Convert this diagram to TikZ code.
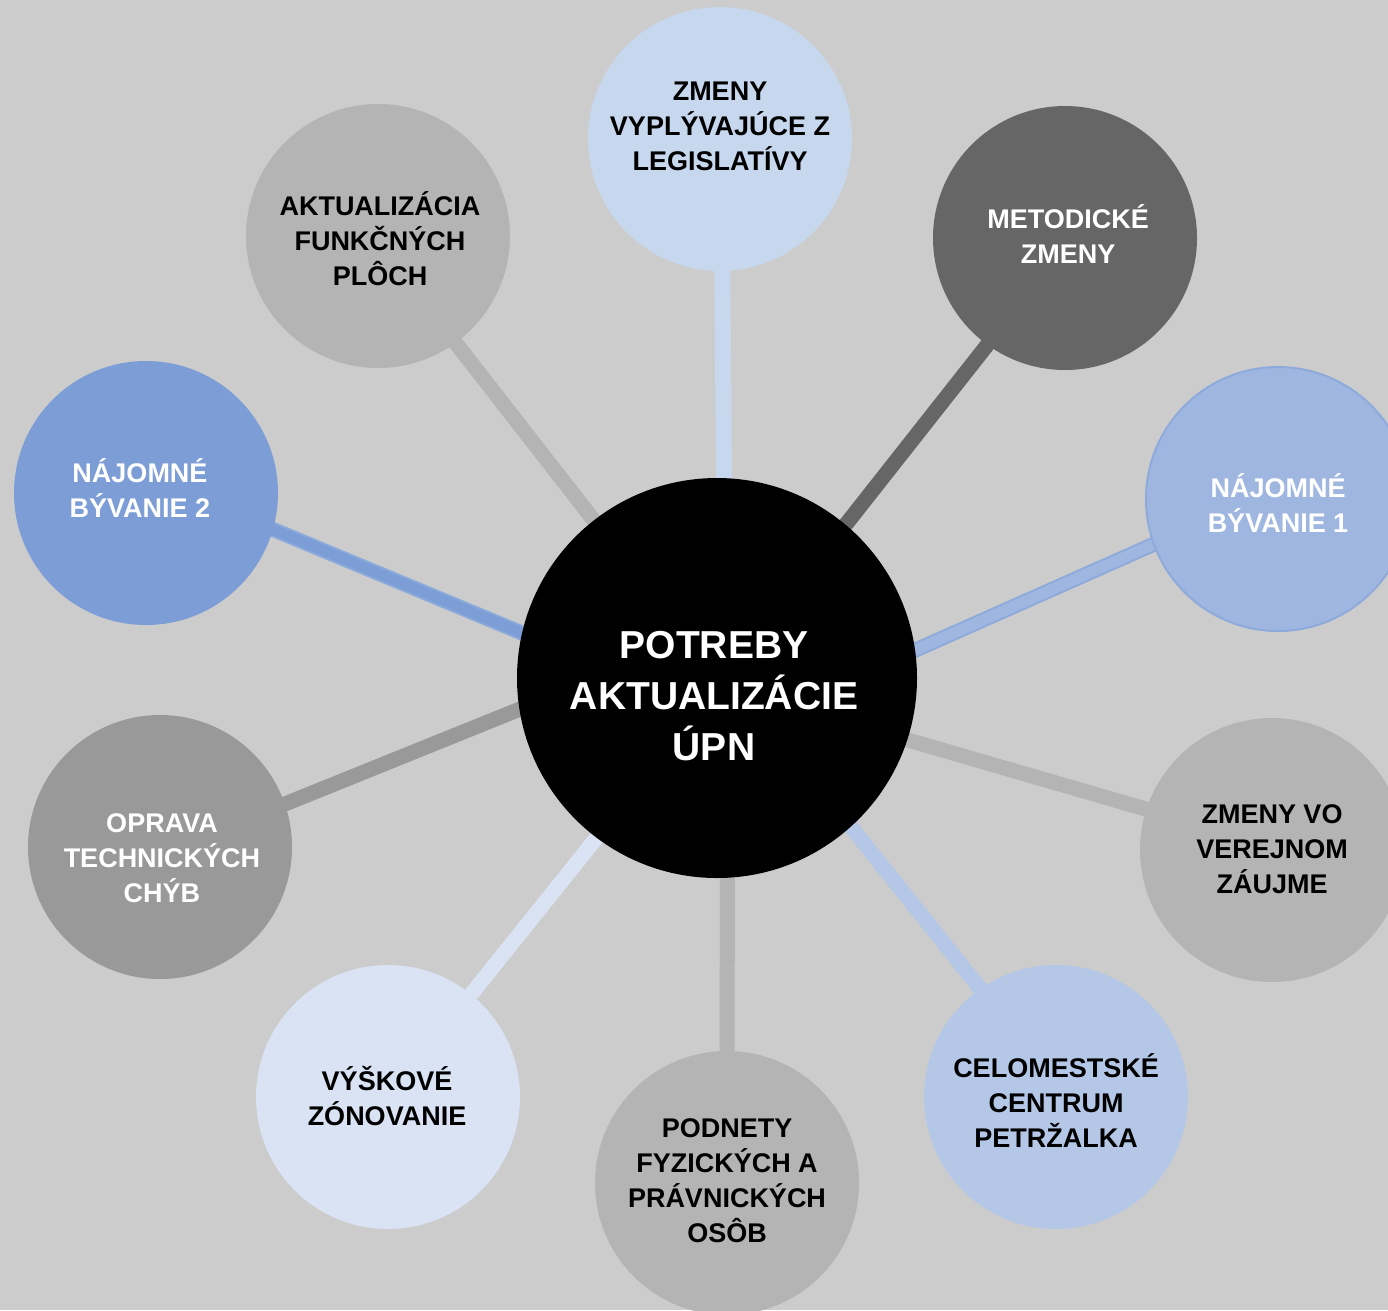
\documentclass[tikz,border=0pt]{standalone}
\usepackage{fontspec}
\setmainfont{Liberation Sans}
\pgfdeclarelayer{bg}
\pgfsetlayers{bg,main}
\definecolor{bgc}{HTML}{CCCCCC}
\definecolor{legc}{HTML}{C7D7ED}
\definecolor{metc}{HTML}{666666}
\definecolor{nbafill}{HTML}{9FB7E0}
\definecolor{nbaline}{HTML}{8EAADB}
\definecolor{midgray}{HTML}{B4B4B4}
\definecolor{celc}{HTML}{B4C7E7}
\definecolor{vysc}{HTML}{DAE3F3}
\definecolor{oprc}{HTML}{999999}
\definecolor{nbbfill}{HTML}{7C9DD5}
\definecolor{nbbedge}{HTML}{8BAADC}
\begin{document}
\begin{tikzpicture}[x=1pt,y=-1pt,
  bub/.style={circle,minimum size=264pt,inner sep=0pt,outer sep=0pt},
  lbl/.style={align=center,anchor=base,inner sep=0pt,font=\fontsize{27}{35}\selectfont\bfseries},
  conn/.style={line width=15pt,shorten <=-8pt,shorten >=-8pt}]
\useasboundingbox (0,0) rectangle (1388,1310);
\begin{pgfonlayer}{bg}
\fill[bgc] (0,0) rectangle (1388,1310);
\end{pgfonlayer}
\clip (0,0) rectangle (1388,1310);
% circles
\node[circle,minimum size=400pt,inner sep=0pt,fill=black] (c) at (717,678) {};
\node[bub,fill=legc] (leg) at (720,139) {};
\node[bub,fill=metc] (met) at (1065,238) {};
\node[bub,fill=nbafill,draw=nbaline,line width=2pt] (nba) at (1278,499) {};
\node[bub,fill=midgray] (zv) at (1272,850) {};
\node[bub,fill=celc] (cel) at (1056,1097) {};
\node[bub,fill=midgray] (pod) at (727,1183) {};
\node[bub,fill=vysc] (vys) at (388,1097) {};
\node[bub,fill=oprc] (opr) at (160,847) {};
\node[bub,fill=nbbfill] (nbb) at (146,493) {};
\node[bub,fill=midgray] (akt) at (378,236) {};
% connectors
\begin{pgfonlayer}{bg}
\draw[conn,legc,line width=16pt] (c.88.3) -- (leg.-89);
\draw[conn,metc] (c.50.6) -- (met.234.3);
\draw[conn,nbaline] (c.8.6) -- (nba.200.2);
\draw[conn,nbafill,line width=11pt] (c.8.6) -- (nba.200.2);
\draw[conn,midgray] (c.-18.3) -- (zv.162.5);
\draw[conn,celc] (c.-48) -- (cel.125.9);
\draw[conn,midgray] (c.-87.7) -- (pod.90.87);
\draw[conn,vysc] (c.233.5) -- (vys.51.7);
\draw[conn,oprc] (c.189.2) -- (opr.19);
\draw[conn,nbbedge] (c.167) -- (nbb.-16);
\draw[conn,nbbfill,line width=11pt] (c.167) -- (nbb.-16);
\draw[conn,midgray] (c.128.4) -- (akt.-54.3);
\end{pgfonlayer}
% texts (anchor base = baseline of last line)
\node[lbl,white,font=\fontsize{39}{51}\selectfont\bfseries] (tc) at (714,760) {POTREBY\\AKTUALIZÁCIE\\ÚPN};
\node[lbl] (tleg) at (720,170) {ZMENY\\VYPLÝVAJÚCE Z\\LEGISLATÍVY};
\node[lbl,white] (tmet) at (1068,263) {METODICKÉ\\ZMENY};
\node[lbl,white] (tnba) at (1278,532) {NÁJOMNÉ\\BÝVANIE 1};
\node[lbl] (tzv) at (1272,893) {ZMENY VO\\VEREJNOM\\ZÁUJME};
\node[lbl] (tcel) at (1056,1147) {CELOMESTSKÉ\\CENTRUM\\PETRŽALKA};
\node[lbl] (tpod) at (727,1242) {PODNETY\\FYZICKÝCH A\\PRÁVNICKÝCH\\OSÔB};
\node[lbl] (tvys) at (387,1125) {VÝŠKOVÉ\\ZÓNOVANIE};
\node[lbl,white] (topr) at (162,902) {OPRAVA\\TECHNICKÝCH\\CHÝB};
\node[lbl,white] (tnbb) at (140,517) {NÁJOMNÉ\\BÝVANIE 2};
\node[lbl] (takt) at (380,285) {AKTUALIZÁCIA\\FUNKČNÝCH\\PLÔCH};
\end{tikzpicture}
\end{document}
